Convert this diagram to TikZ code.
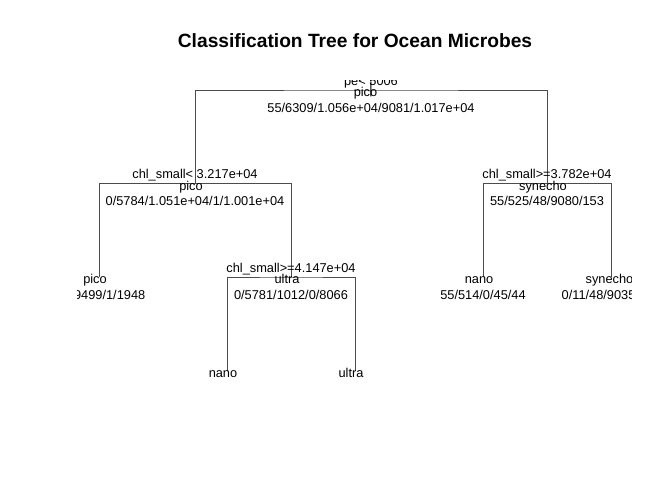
\documentclass[tikz,border=0pt]{standalone}
\usepackage{fontspec}
\setmainfont{Liberation Sans}
\begin{document}
\begin{tikzpicture}[x=1pt,y=-1pt,
        branch/.style={draw=black!70,line width=1pt},
        lbl/.style={anchor=base,inner sep=0pt,font=\fontsize{12.8}{15}\selectfont},
        stub/.style={anchor=base,inner sep=0pt,text=black!80,font=\fontsize{16}{19}\selectfont},
        heading/.style={anchor=base,inner sep=0pt,font=\bfseries\fontsize{19.2}{23}\selectfont}]
\fill[white] (0,0) rectangle (672,480);
\useasboundingbox (0,0) rectangle (672,480);

\node[heading] (title) at (355,47) {Classification Tree for Ocean Microbes};

% node points of the tree
\coordinate (root) at (371,90);
\coordinate (chlA) at (195,183.5);
\coordinate (chlB) at (547,183.5);
\coordinate (ultraN) at (291,277);
\coordinate (picoL) at (99,277);
\coordinate (nanoR) at (483,277);
\coordinate (synL) at (611,277);
\coordinate (nanoL) at (227,370.5);
\coordinate (ultraL) at (355,370.5);

\begin{scope}
\clip (77,80) rectangle (631,383);

\draw[branch] (chlA) |- (root) -| (chlB);
\draw[branch] (picoL) |- (chlA) -| (ultraN);
\draw[branch] (nanoL) |- (ultraN) -| (ultraL);
\draw[branch] (nanoR) |- (chlB) -| (synL);

\node[stub] (rootbar) at (371,93.6) {|};

\node[lbl] (rootsplit) at (371,85) {pe< 5006};
\node[lbl] (rootclass) at (365.5,96.7) {pico};
\node[lbl] (rootcount) at (371,112) {55/6309/1.056e+04/9081/1.017e+04};

\node[lbl] (chlAsplit) at (195,178.5) {chl\_small< 3.217e+04};
\node[lbl] (chlAclass) at (191,190.2) {pico};
\node[lbl] (chlAcount) at (195,205.5) {0/5784/1.051e+04/1/1.001e+04};

\node[lbl] (chlBsplit) at (547,178.5) {chl\_small>=3.782e+04};
\node[lbl] (chlBclass) at (543,190.2) {synecho};
\node[lbl] (chlBcount) at (547,205.5) {55/525/48/9080/153};

\node[lbl] (ultraNsplit) at (291,272) {chl\_small>=4.147e+04};
\node[lbl] (ultraNclass) at (287,283.7) {ultra};
\node[lbl] (ultraNcount) at (291,299) {0/5781/1012/0/8066};

\node[lbl] (picoLclass) at (95,283.7) {pico};
\node[lbl] (picoLcount) at (99,299) {0/3/9499/1/1948};

\node[lbl] (nanoRclass) at (479,283.7) {nano};
\node[lbl] (nanoRcount) at (483,299) {55/514/0/45/44};

\node[lbl] (synLclass) at (609.5,283.7) {synecho};
\node[lbl] (synLcount) at (611,299) {0/11/48/9035/109};

\node[lbl] (nanoLclass) at (223,377.2) {nano};
\node[lbl] (ultraLclass) at (351,377.2) {ultra};
\end{scope}
\end{tikzpicture}
\end{document}
